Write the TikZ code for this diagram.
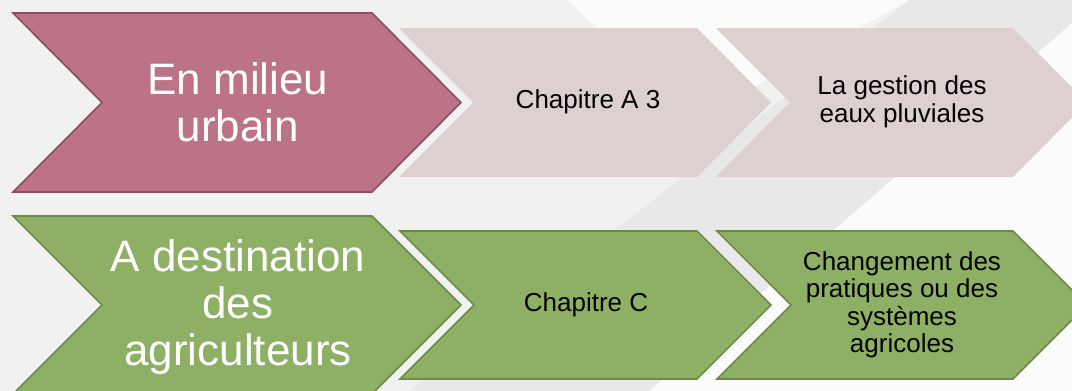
\documentclass[tikz,border=0pt]{standalone}
\usepackage{fontspec}
\setmainfont{Liberation Sans}
\definecolor{bgbase}{HTML}{F1F1F1}
\definecolor{bggray}{HTML}{E8E8E8}
\definecolor{bgwhite}{HTML}{FBFBFB}
\definecolor{pinkfill}{HTML}{BC7287}
\definecolor{pinkline}{HTML}{8C4D60}
\definecolor{palefill}{HTML}{DDD0D1}
\definecolor{greenfill}{HTML}{8EB064}
\definecolor{greenline}{HTML}{6B8C48}
\newcommand\chevshape[6]{%
  \path[#1] (#2,#3) -- (#4,#3) -- ({#4+#6},{(#3+#5)/2}) -- (#4,#5) -- (#2,#5) -- ({#2+#6},{(#3+#5)/2}) -- cycle;}
\begin{document}
\begin{tikzpicture}[x=1pt,y=-1pt,
  pinkchev/.style={fill=pinkfill, draw=pinkline, line width=1.6pt, line join=miter},
  palechev/.style={fill=palefill},
  greenchev/.style={fill=greenfill, draw=greenline, line width=1.6pt, line join=miter},
  bigtext/.style={text=white, font=\fontsize{44}{47}\selectfont, align=center, inner sep=0pt},
  smalltext/.style={text=black, font=\fontsize{26}{27.5}\selectfont, align=center, inner sep=0pt}]
\useasboundingbox (0,0) rectangle (1072,391);
\clip (0,0) rectangle (1072,391);
% background
\fill[bgbase] (0,0) rectangle (1072,391);
\fill[bgwhite] (567,0) -- (909,0) -- (693,121) -- cycle;
\fill[bggray] (909,0) -- (1072,0) -- (1072,23) -- (649,391) -- (409,391) -- cycle;
\fill[bgwhite] (1072,23) -- (649,391) -- (1072,391) -- cycle;
% row 1
\chevshape{palechev}{716}{28}{1013}{177}{74}
\chevshape{palechev}{399}{28}{697}{177}{74}
\chevshape{pinkchev}{13}{13}{372}{192}{89}
% row 2
\chevshape{greenchev}{717}{231}{1013}{379}{74}
\chevshape{greenchev}{400}{231}{697}{379}{74}
\chevshape{greenchev}{13}{216}{372}{394}{89}
% texts
\node[bigtext] (t11) at (238,102) {En milieu\\urbain};
\node[smalltext] (t12) at (588,102) {Chapitre A 3};
\node[smalltext] (t13) at (902,102) {La gestion des\\eaux pluviales};
\node[bigtext] (t21) at (238,307) {A destination\\des\\agriculteurs};
\node[smalltext] (t22) at (586,305) {Chapitre C};
\node[smalltext] (t23) at (902,305) {Changement des\\pratiques ou des\\systèmes\\agricoles};
\end{tikzpicture}
\end{document}
